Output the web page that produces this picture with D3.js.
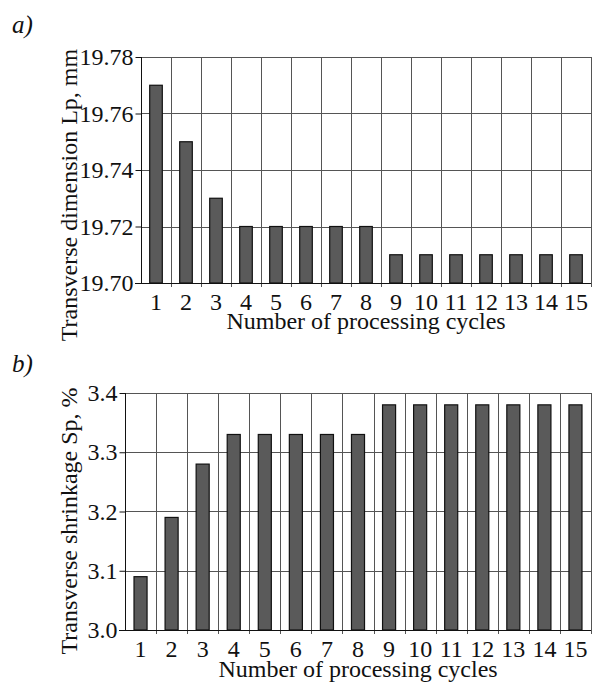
<!DOCTYPE html>
<html>
<head>
<meta charset="utf-8">
<script src="https://cdn.jsdelivr.net/npm/d3@7"></script>
<style>
  body { margin: 0; background: #fff; }
  svg text { font-family: "Liberation Serif", "Times New Roman", serif; fill: #111; }
</style>
</head>
<body>
<div id="chart"></div>
<script>
// data
var cycles = ["1","2","3","4","5","6","7","8","9","10","11","12","13","14","15"];
var dimensionLp = [19.77, 19.75, 19.73, 19.72, 19.72, 19.72, 19.72, 19.72, 19.71, 19.71, 19.71, 19.71, 19.71, 19.71, 19.71];
var shrinkageSp = [3.09, 3.19, 3.28, 3.33, 3.33, 3.33, 3.33, 3.33, 3.38, 3.38, 3.38, 3.38, 3.38, 3.38, 3.38];
var ticksA = [19.70, 19.72, 19.74, 19.76, 19.78];
var ticksB = [3.0, 3.1, 3.2, 3.3, 3.4];

var svg = d3.select("#chart")
  .append("svg")
  .attr("width", 596)
  .attr("height", 684);

function drawPanel(opt) {
  var g = svg.append("g");

  var x = d3.scaleBand()
    .domain(cycles)
    .range([opt.left, opt.right])
    .padding(0);

  var y = d3.scaleLinear()
    .domain(d3.extent(opt.ticks))
    .range([opt.bottom, opt.top]);

  // horizontal grid
  g.selectAll(".hgrid")
    .data(opt.ticks.slice(1))
    .enter()
    .append("line")
    .attr("x1", opt.left)
    .attr("x2", opt.right)
    .attr("y1", d => Math.round(y(d)) + 0.5)
    .attr("y2", d => Math.round(y(d)) + 0.5)
    .attr("stroke", "#555")
    .attr("stroke-width", 1);

  // vertical grid at band boundaries (small tick below the axis)
  g.selectAll(".vgrid")
    .data(cycles)
    .enter()
    .append("line")
    .attr("x1", d => Math.round(x(d) + x.bandwidth()) + 0.5)
    .attr("x2", d => Math.round(x(d) + x.bandwidth()) + 0.5)
    .attr("y1", opt.top)
    .attr("y2", opt.bottom + 4)
    .attr("stroke", "#555")
    .attr("stroke-width", 1);

  // bars
  var bw = x.bandwidth() * 0.42;
  g.selectAll(".bar")
    .data(opt.values)
    .enter()
    .append("rect")
    .attr("x", (d, i) => x(cycles[i]) + (x.bandwidth() - bw) / 2)
    .attr("y", d => y(d))
    .attr("width", bw)
    .attr("height", d => y(opt.ticks[0]) - y(d))
    .attr("fill", "#5a5a5a")
    .attr("stroke", "#111")
    .attr("stroke-width", 1.2);

  // y axis
  var yAxis = d3.axisLeft(y)
    .tickValues(opt.ticks)
    .tickFormat(d3.format(opt.fmt))
    .tickSize(6)
    .tickPadding(2);
  var ya = g.append("g")
    .attr("transform", `translate(${opt.left + 0.5},0)`)
    .call(yAxis);
  ya.select(".domain").attr("stroke", "#111").attr("d", `M0,${opt.bottom}V${opt.top}`);
  ya.selectAll(".tick line").attr("stroke", "#111");
  ya.selectAll("text").attr("font-size", "24px").attr("fill", "#111")
    .attr("font-family", "Liberation Serif, serif");

  // x axis
  var xAxis = d3.axisBottom(x)
    .tickSize(0)
    .tickPadding(9);
  var xa = g.append("g")
    .attr("transform", `translate(0,${opt.bottom + 0.5})`)
    .call(xAxis);
  xa.select(".domain").attr("stroke", "#111").attr("d", `M${opt.left - 6},0H${opt.right}`);
  xa.selectAll("text").attr("font-size", "24px").attr("fill", "#111")
    .attr("font-family", "Liberation Serif, serif");

  // axis titles
  g.append("text")
    .attr("x", (opt.left + opt.right) / 2)
    .attr("y", opt.bottom + opt.xTitleGap)
    .attr("text-anchor", "middle")
    .attr("font-size", "24px")
    .text("Number of processing cycles");

  g.append("text")
    .attr("transform", `translate(${opt.titleX},${opt.titleY}) rotate(-90)`)
    .attr("text-anchor", "middle")
    .attr("font-size", "24px")
    .text(opt.yTitle);

  // panel letter
  g.append("text")
    .attr("x", 12)
    .attr("y", opt.letterY)
    .attr("font-size", "25px")
    .attr("font-style", "italic")
    .text(opt.letter);
}

drawPanel({
  values: dimensionLp, ticks: ticksA, fmt: ".2f",
  left: 141, right: 591, top: 57, bottom: 283,
  yTitle: "Transverse dimension Lp, mm", titleX: 77, titleY: 195,
  letter: "a)", letterY: 33, xTitleGap: 46
});

drawPanel({
  values: shrinkageSp, ticks: ticksB, fmt: ".1f",
  left: 125, right: 591, top: 393, bottom: 630,
  yTitle: "Transverse shrinkage Sp, %", titleX: 77, titleY: 521,
  letter: "b)", letterY: 372, xTitleGap: 47
});
</script>
</body>
</html>
